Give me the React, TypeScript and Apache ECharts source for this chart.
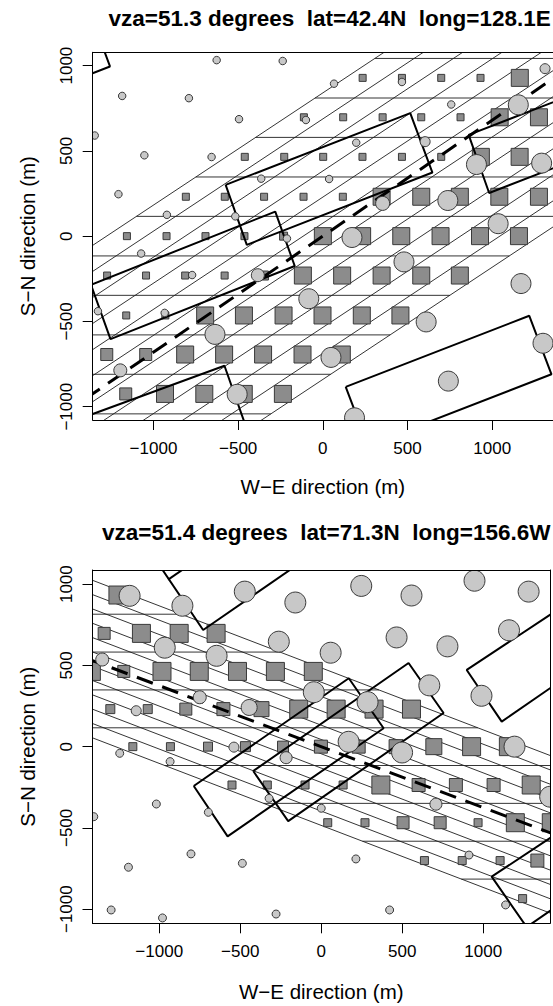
import React, { useEffect, useRef } from "react";
import * as echarts from "echarts";

const FONT = "'Liberation Sans', Arial, Helvetica, sans-serif";

// ---- text ----
const titleTop = "vza=51.3 degrees  lat=42.4N  long=128.1E";
const titleBottom = "vza=51.4 degrees  lat=71.3N  long=156.6W";
const xLabel = "W\u2212E direction (m)";
const yLabel = "S\u2212N direction (m)";
const tickValues = [-1000, -500, 0, 500, 1000];

// ---- panel extents (m) ----
const topXRange = [-1359, 1359];
const topYRange = [-1078, 1078];
const bottomXRange = [-1412, 1412];
const bottomYRange = [-1087, 1087];

// ---- upper panel ----
// scan lines of the pixel grid: [x1, y1, x2, y2]
const topScanLines = [
  [-2949, -1100, 395, 1100],
  [-2717, -1100, 627, 1100],
  [-2485, -1100, 859, 1100],
  [-2253, -1100, 1091, 1100],
  [-2020, -1100, 1324, 1100],
  [-1788, -1100, 1556, 1100],
  [-1556, -1100, 1788, 1100],
  [-1324, -1100, 2020, 1100],
  [-1091, -1100, 2253, 1100],
  [-859, -1100, 2485, 1100],
  [-627, -1100, 2717, 1100],
  [-395, -1100, 2949, 1100],
];
const topRowLines = [
  [307, 1042, 2861, 1042],
  [-46, 810, 2508, 810],
  [-397, 579, 2157, 579],
  [-750, 347, 1804, 347],
  [-1101, 116, 1453, 116],
  [-1453, -116, 1101, -116],
  [-1804, -347, 750, -347],
  [-2157, -579, 397, -579],
  [-2508, -810, 46, -810],
  [-2861, -1042, -307, -1042],
];
// footprint outlines
const topOutlines = [
  [[-1400, 939], [-1257, 995], [-1296, 1100]],
  [[-574, 301], [516, 721], [647, 373], [-449, -51], [-574, 301]],
  [[-1369, -285], [-281, 144], [-166, -175], [-1254, -604], [-1369, -285]],
  [[-1400, -1058], [-581, -760], [-460, -1100]],
  [[135, -884], [1219, -467], [1350, -810], [266, -1227], [135, -884]],
  [[1600, 878], [861, 594], [982, 253], [1600, 491]],
];
const topTrack = [[-1400, -952], [1400, 952]];
// pixel centres: [x, y, symbol size]
const topSquares = [
  [235, 928, 7], [467, 928, 7], [699, 928, 7], [931, 928, 7], [1163, 928, 17],
  [-112, 697, 7], [120, 697, 7], [353, 697, 7], [581, 697, 7], [813, 697, 7], [1044, 697, 17], [1276, 697, 17],
  [-461, 465, 7], [-228, 465, 7], [2, 465, 7], [234, 465, 7], [467, 465, 7], [699, 465, 7], [933, 465, 17], [1162, 465, 17],
  [-809, 231, 7], [-579, 231, 7], [-347, 231, 7], [-114, 231, 7], [118, 231, 7], [347, 231, 17], [581, 231, 17], [809, 231, 17], [1042, 231, 17], [1276, 231, 17],
  [-1157, 0, 7], [-923, 0, 7], [-693, 0, 7], [-463, 0, 7], [-232, 0, 8], [0, 0, 17], [232, 0, 17], [463, 0, 17], [695, 0, 17], [928, 0, 17], [1158, 0, 17],
  [-1274, -231, 7], [-1044, -231, 7], [-813, -231, 7], [-580, -231, 7], [-348, -231, 9], [-118, -231, 17], [114, -231, 17], [347, -231, 17], [581, -231, 17], [809, -231, 17],
  [-1161, -465, 7], [-930, -465, 7], [-695, -465, 17], [-466, -465, 17], [-232, -465, 17], [-2, -465, 17], [230, -465, 17], [458, -465, 17],
  [-1276, -694, 12], [-1046, -694, 12], [-813, -694, 17], [-583, -694, 17], [-353, -694, 17], [-120, -694, 17], [112, -694, 17],
  [-1164, -925, 12], [-932, -925, 17], [-700, -925, 17], [-467, -925, 17], [-236, -925, 17],
];
// ground samples: [x, y, symbol size]
const topCircles = [
  [-627, 1032, 7.5], [-237, 1027, 7.5], [-1185, 822, 7.5], [-791, 809, 7.5], [66, 894, 7.5], [467, 904, 7.5],
  [-495, 686, 7.5], [-100, 681, 7.5], [758, 772, 7.5], [-1347, 590, 7.5], [-1054, 474, 7.5], [-657, 464, 7.5],
  [197, 548, 7.5], [-364, 337, 7.5], [37, 335, 7.5], [-1207, 246, 7.5], [-921, 125, 7.5], [-517, 116, 7.5],
  [-212, -14, 7.5], [-1073, -102, 7.5], [-772, -228, 7.5], [-1328, -440, 7.5], [-934, -450, 7.5],
  [1312, 982, 10], [604, 554, 10], [353, 192, 14], [-384, -229, 13], [-1196, -787, 13],
  [1154, 770, 20], [907, 420, 20], [1292, 428, 20], [738, 209, 20], [1035, 73, 20], [172, -8, 20],
  [479, -151, 20], [1170, -278, 20], [-83, -367, 20], [610, -503, 20], [-637, -576, 20], [48, -711, 20],
  [1300, -628, 20], [-506, -927, 20], [741, -850, 20], [187, -1065, 20],
];

// ---- lower panel ----
const bottomScanLines = [
  [1612, -1100, -4152, 1100],
  [1843, -1100, -3921, 1100],
  [2074, -1100, -3690, 1100],
  [2305, -1100, -3459, 1100],
  [2536, -1100, -3228, 1100],
  [2767, -1100, -2997, 1100],
  [2997, -1100, -2767, 1100],
  [3228, -1100, -2536, 1100],
  [3459, -1100, -2305, 1100],
  [3690, -1100, -2074, 1100],
  [3921, -1100, -1843, 1100],
  [4152, -1100, -1612, 1100],
];
const bottomRowLines = [
  [-3405, 815, -865, 815],
  [-2795, 582, -255, 582],
  [-2184, 349, 356, 349],
  [-1574, 116, 966, 116],
  [-966, -116, 1574, -116],
  [-356, -349, 2184, -349],
  [255, -582, 2795, -582],
  [865, -815, 3405, -815],
];
const bottomOutlines = [
  [[-988, 1100], [-729, 718], [-175, 1100]],
  [[-945, 1028], [-840, 1100]],
  [[-787, -242], [170, 421], [385, 113], [-578, -552], [-787, -242]],
  [[-420, -150], [539, 515], [755, 207], [-204, -458], [-420, -150]],
  [[1500, 869], [898, 472], [1114, 154], [1500, 420]],
  [[1500, -504], [1052, -800], [1268, -1110], [1500, -950]],
];
const bottomTrack = [[-1450, 544], [1450, -544]];
const bottomSquares = [
  [-1255, 933, 18],
  [-1340, 697, 12], [-1110, 697, 18], [-877, 697, 18], [-649, 697, 18],
  [-1419, 463, 18], [-1219, 463, 12], [-983, 463, 18], [-753, 463, 18], [-517, 463, 18], [-283, 463, 18], [-49, 463, 18],
  [-1302, 231, 9], [-1071, 231, 9], [-836, 231, 12], [-604, 231, 13], [-369, 231, 15], [-139, 231, 18], [92, 231, 18], [326, 231, 18], [557, 231, 18],
  [-1163, 0, 8], [-931, 0, 8], [-699, 0, 9], [-468, 0, 10], [-236, 0, 11], [-2, 0, 13], [231, 0, 13], [462, 0, 14], [695, 0, 16], [928, 0, 18], [1155, 0, 18],
  [-551, -236, 8], [-333, -236, 8], [-100, -236, 8], [135, -236, 8], [368, -236, 18], [601, -236, 13], [831, -236, 13], [1064, -236, 13], [1296, -236, 18],
  [40, -468, 8], [270, -468, 8], [505, -468, 12], [734, -468, 12], [968, -468, 8], [1198, -468, 18], [1420, -468, 18],
  [637, -701, 8], [870, -701, 8], [1104, -701, 8], [1334, -701, 13],
  [1243, -935, 8],
];
const bottomCircles = [
  [-1183, 928, 21], [-857, 867, 21], [-472, 954, 21], [-160, 887, 21], [247, 989, 21], [557, 930, 21],
  [946, 1021, 21], [1280, 954, 21], [-966, 609, 21], [-646, 559, 21], [-262, 646, 21], [58, 578, 21],
  [465, 672, 21], [779, 617, 21], [1159, 716, 21], [-46, 335, 21], [286, 274, 21], [667, 377, 21],
  [989, 313, 21], [169, 30, 21], [499, -36, 21], [1193, 0, 21], [1413, -308, 21],
  [-445, 241, 16],
  [-1352, 536, 13], [-750, 304, 13], [-217, -68, 12], [708, -354, 12],
  [-1142, 221, 10], [-539, -3, 10],
  [-1244, -41, 8], [-933, -92, 8], [-1018, -353, 8], [-697, -404, 8], [-322, -318, 8], [0, -379, 8],
  [-1404, -431, 8], [-804, -660, 8], [-487, -718, 8], [-1190, -742, 8], [214, -691, 8], [912, -667, 8],
  [-1297, -1005, 8], [-980, -1054, 8], [-279, -1030, 8], [422, -1005, 8], [1138, -974, 8],
];

// ---- layout (px) ----
const topGrid = { left: 92.7, top: 52.3, width: 463.9, height: 367.7 };
const bottomGrid = { left: 92.5, top: 570, width: 457.5, height: 353.3 };

const labelFmt = (v: number) => (v < 0 ? "\u2212" + Math.abs(v) : String(v));
const black = { color: "#000", width: 1 };

function mainX(gridIndex: number, range: number[], nameGap: number) {
  return {
    type: "value", gridIndex, min: range[0], max: range[1], position: "bottom", z: 20,
    name: xLabel, nameLocation: "middle", nameGap,
    nameTextStyle: { fontFamily: FONT, fontSize: 20.5, color: "#000" },
    axisLine: { show: true, onZero: false, lineStyle: black },
    axisTick: { show: true, customValues: tickValues, length: 10, lineStyle: black },
    axisLabel: { show: true, customValues: tickValues, formatter: labelFmt, fontFamily: FONT, fontSize: 17, color: "#000", margin: 20 },
    splitLine: { show: false },
  };
}
function frameX(gridIndex: number, range: number[]) {
  return {
    type: "value", gridIndex, min: range[0], max: range[1], position: "top", z: 20,
    axisLine: { show: true, onZero: false, lineStyle: black },
    axisTick: { show: false }, axisLabel: { show: false }, splitLine: { show: false },
  };
}
function mainY(gridIndex: number, range: number[], nameGap: number) {
  return {
    type: "value", gridIndex, min: range[0], max: range[1], position: "left", z: 20,
    name: yLabel, nameLocation: "middle", nameGap, nameRotate: 90,
    nameTextStyle: { fontFamily: FONT, fontSize: 20.5, color: "#000" },
    axisLine: { show: true, onZero: false, lineStyle: black },
    axisTick: { show: true, customValues: tickValues, length: 10, lineStyle: black },
    axisLabel: { show: true, customValues: tickValues, formatter: labelFmt, rotate: 90, fontFamily: FONT, fontSize: 17, color: "#000", margin: 18 },
    splitLine: { show: false },
  };
}
function frameY(gridIndex: number, range: number[]) {
  return {
    type: "value", gridIndex, min: range[0], max: range[1], position: "right", z: 20,
    axisLine: { show: true, onZero: false, lineStyle: black },
    axisTick: { show: false }, axisLabel: { show: false }, splitLine: { show: false },
  };
}

function segments(list: number[][], axis: number) {
  return list.map((s) => ({
    type: "line", xAxisIndex: axis, yAxisIndex: axis,
    data: [[s[0], s[1]], [s[2], s[3]]],
    symbol: "none", silent: true, clip: true, z: 2,
    lineStyle: { color: "#1e1e1e", width: 0.9 },
  }));
}
function outlines(list: number[][][], axis: number) {
  return list.map((pts) => ({
    type: "line", xAxisIndex: axis, yAxisIndex: axis, data: pts,
    symbol: "none", silent: true, clip: true, z: 4,
    lineStyle: { color: "#000", width: 2 },
  }));
}
function track(pts: number[][], axis: number) {
  return {
    type: "line", xAxisIndex: axis, yAxisIndex: axis, data: pts,
    symbol: "none", silent: true, clip: true, z: 4,
    lineStyle: { color: "#000", width: 3, type: [17, 10] },
  };
}
function markers(data: number[][], axis: number, symbol: string, fill: string, z: number) {
  return {
    type: "scatter", xAxisIndex: axis, yAxisIndex: axis, data, symbol,
    symbolSize: (v: number[]) => v[2], silent: true, clip: false, z,
    itemStyle: { color: fill, borderColor: "#3a3a3a", borderWidth: 1, opacity: 1 },
  };
}

// white masks trimming markers that spill over the plot frame
function maskRect(x: number, y: number, w: number, h: number) {
  return { type: "rect", z: 10, silent: true, shape: { x, y, width: w, height: h }, style: { fill: "#fff" } };
}

function buildOption() {
  const tg = topGrid, bg = bottomGrid;
  return {
    animation: false,
    backgroundColor: "#fff",
    title: [
      { text: titleTop, left: tg.left + tg.width / 2, top: 2, textAlign: "center", z: 20,
        textStyle: { fontFamily: FONT, fontSize: 22.5, fontWeight: "bold", color: "#000" } },
      { text: titleBottom, left: bg.left + bg.width / 2, top: 516, textAlign: "center", z: 20,
        textStyle: { fontFamily: FONT, fontSize: 22.5, fontWeight: "bold", color: "#000" } },
    ],
    grid: [
      { ...tg, show: false, containLabel: false },
      { ...bg, show: false, containLabel: false },
    ],
    xAxis: [mainX(0, topXRange, 56), frameX(0, topXRange), mainX(1, bottomXRange, 58), frameX(1, bottomXRange)],
    yAxis: [mainY(0, topYRange, 55), frameY(0, topYRange), mainY(1, bottomYRange, 55), frameY(1, bottomYRange)],
    graphic: {
      elements: [
        maskRect(0, 0, 553, tg.top),
        maskRect(0, tg.top + tg.height, 553, bg.top - (tg.top + tg.height)),
        maskRect(0, bg.top + bg.height, 553, 1006 - (bg.top + bg.height)),
        maskRect(0, tg.top, tg.left, tg.height),
        maskRect(0, bg.top, bg.left, bg.height),
        maskRect(bg.left + bg.width, bg.top, 553 - (bg.left + bg.width), bg.height),
      ],
    },
    series: [
      ...segments(topScanLines, 0),
      ...segments(topRowLines, 0),
      markers(topSquares, 0, "rect", "#8c8c8c", 3),
      ...outlines(topOutlines, 0),
      track(topTrack, 0),
      markers(topCircles, 0, "circle", "#c8c8c8", 5),

      ...segments(bottomScanLines, 2),
      ...segments(bottomRowLines, 2),
      markers(bottomSquares, 2, "rect", "#8c8c8c", 3),
      ...outlines(bottomOutlines, 2),
      track(bottomTrack, 2),
      markers(bottomCircles, 2, "circle", "#c8c8c8", 5),
    ],
  };
}

export default function App() {
  const ref = useRef<HTMLDivElement>(null);
  useEffect(() => {
    if (!ref.current) return;
    const chart = echarts.init(ref.current, undefined, { renderer: "svg" });
    chart.setOption(buildOption() as any);
    return () => chart.dispose();
  }, []);
  return (
    <div
      ref={ref}
      style={{ position: "fixed", left: 0, top: 0, width: 553, height: 1006, background: "#fff" }}
    />
  );
}
